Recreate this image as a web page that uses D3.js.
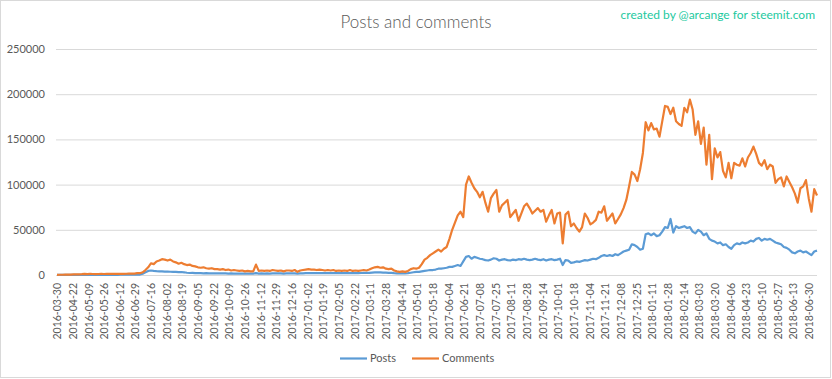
<!DOCTYPE html>
<html>
<head>
<meta charset="utf-8">
<title>Posts and comments</title>
<style>
  body { margin: 0; background: #fff; }
  svg { display: block; font-family: Lato, "Open Sans", sans-serif; }
</style>
</head>
<body>
<script src="https://cdn.jsdelivr.net/npm/d3@7/dist/d3.min.js"></script>
<script>
// first day, then a gap, then one point per day up to 2018-07-09
const firstDay = "2016-03-30";
const dailyFrom = "2016-04-06";
const dailyTo = "2018-07-10";

// values in thousands, read every third day
const sampleStep = 3;

const postsK = [
  0.1,0.1,0.1,0.1,0.1,0.1,0.2,0.2,0.2,0.2,
  0.2,0.2,0.2,0.2,0.2,0.2,0.2,0.2,0.2,0.2,
  0.2,0.2,0.2,0.3,0.3,0.3,0.3,0.3,0.3,0.3,
  0.5,1.5,3,4.5,5,4.5,4.2,4,4,3.8,
  3.8,3.6,3.5,3.4,3.2,3.3,3,2.5,2.2,2.3,
  2,2.1,2,1.9,2,1.8,1.9,1.8,1.7,1.8,
  1.7,1.8,1.6,1.7,1.6,1.6,1.5,1.6,1.5,1.5,
  1.5,1.6,2,1.6,1.7,1.6,1.7,1.6,1.8,1.7,
  1.7,1.8,1.6,1.8,1.7,1.7,1.8,1.5,1.8,1.9,
  2,2.1,2,2.1,2,2.1,2,2,2.1,2,
  2.1,2,2,2.1,2,2,2.1,2,2.2,2.1,
  2.2,2.3,2.3,2.4,2.6,2.8,2.9,2.8,2.7,2.6,
  2.4,2.3,2,1.9,1.8,1.9,1.8,2,2.5,3,
  3.5,3.5,4,4.5,5,5.5,5.5,6,7,7,
  7.5,8,9,9,10,11,10,15,20,21,
  18,20,19,18,17.5,16.5,16,17,18.5,18,
  16,17,17.5,16.5,16,17,16.5,17.5,17,18,
  17,16.5,17,18,17,16.5,17.5,16,17,17.5,
  16.5,17,18,11,16.5,16,13.5,14,15,14.5,
  15.5,16.5,16,17,18,17.5,19,21,22,21,
  22,21,23,22,24,26,27,28,34,33,
  31,28,29,45,46,44,46,43,44,48,
  53,52,62,47,54,52,53,54,52,53,
  48,46,50,48,44,46,40,38,37,35,
  36,33,34,31,29,33,35,34,36,35,
  36,38,37,40,41,38,40,39,40,38,
  36,35,34,31,30,28,25,24,26,27,
  25,26,24,22,26,27
];

const commentsK = [
  0.2,0.3,0.3,0.4,0.4,0.5,0.6,0.6,0.8,0.9,
  1.2,1.0,1.3,1.1,1.0,1.1,1.2,1.1,1.2,1.2,
  1.3,1.2,1.3,1.4,1.3,1.4,1.5,1.5,1.6,2.0,
  2.0,3.0,5.5,8.5,13,12,15,16,17.5,17,
  16,17,15,14,12.5,13.5,12,11,11.5,10,
  9.5,8.5,8,8.5,7.5,7,7.5,6.5,6.5,6,
  6.5,5.5,6,5,5.5,5,4.5,5,4,4.5,
  4,4,11.5,4.5,5,4.5,5,4.5,5.5,5,
  4.5,5,4,5,5,4.5,5.5,3.5,5,5.5,
  6,6.5,6,6,5.5,6,5.5,5,5.5,5,
  5.5,4.5,5,4.5,5,4.5,5.5,4.5,5,4.5,
  5,5.5,5,6,7.5,8.5,9,8,8.5,7,
  6.5,7,5,4,3.5,4,3.5,4.5,6.5,7.5,
  7,8,12,17,19,22,24,26,28,26,
  29,31,40,50,58,66,70,64,100,109,
  102,96,92,86,92,80,70,85,90,94,
  70,77,80,83,64,68,72,60,68,76,
  79,74,68,71,74,70,72,59,66,72,
  57,68,69,35,67,70,54,57,52,48,
  53,68,63,56,58,61,70,69,76,60,
  64,68,57,62,67,74,83,98,114,111,
  104,117,135,169,160,168,161,162,153,170,
  187,186,178,185,170,167,165,185,180,194,
  183,155,170,145,163,122,155,106,140,130,
  136,115,108,124,107,124,122,121,129,120,
  130,135,142,134,124,121,127,117,122,120,
  102,106,108,98,109,103,97,90,80,96,
  98,105,85,70,95,88
];

const xLabels = [
  "2016-03-30","2016-04-22","2016-05-09","2016-05-26","2016-06-12","2016-06-29",
  "2016-07-16","2016-08-02","2016-08-19","2016-09-05","2016-09-22","2016-10-09",
  "2016-10-26","2016-11-12","2016-11-29","2016-12-16","2017-01-02","2017-01-19",
  "2017-02-05","2017-02-22","2017-03-11","2017-03-28","2017-04-14","2017-05-01",
  "2017-05-18","2017-06-04","2017-06-21","2017-07-08","2017-07-25","2017-08-11",
  "2017-08-28","2017-09-14","2017-10-01","2017-10-18","2017-11-04","2017-11-21",
  "2017-12-08","2017-12-25","2018-01-11","2018-01-28","2018-02-14","2018-03-03",
  "2018-03-20","2018-04-06","2018-04-23","2018-05-10","2018-05-27","2018-06-13",
  "2018-06-30"
];
const yTicks = [0, 50, 100, 150, 200, 250];

const seriesNames = ["Posts", "Comments"];
const seriesColors = ["#5b9bd5", "#ed7d31"];

const W = 832, H = 379;
const plotL = 56, plotR = 817, plotT = 49, plotB = 275;

let fmt = d3.timeFormat("%Y-%m-%d");
let parse = d3.timeParse("%Y-%m-%d");
let cats = [firstDay].concat(d3.timeDay.range(parse(dailyFrom), parse(dailyTo)).map(fmt));

let x = d3.scalePoint().domain(cats).range([57, plotR]);
let y = d3.scaleLinear().domain([0, 250]).range([plotB, plotT]);

let svg = d3.select("body").append("svg")
  .attr("width", W)
  .attr("height", H);

svg.append("rect")
  .attr("x", 0.5).attr("y", 0.5)
  .attr("width", W - 2).attr("height", H - 2)
  .attr("fill", "#fff")
  .attr("stroke", "#d9d9d9");

// grid + y labels
let yAxis = d3.axisLeft(y)
  .tickValues(yTicks)
  .tickSize(-(plotR - plotL))
  .tickPadding(11)
  .tickFormat(d => String(d * 1000));

let gy = svg.append("g")
  .attr("transform", `translate(${plotL},0)`)
  .call(yAxis);
gy.select(".domain").remove();
gy.selectAll(".tick line").attr("stroke", "#d9d9d9");
gy.selectAll(".tick text")
  .attr("fill", "#595959")
  .style("font-size", "11px")
  .style("font-family", "Lato, sans-serif");

// x labels
let xAxis = d3.axisBottom(x).tickValues(xLabels).tickSize(0);
let gx = svg.append("g")
  .attr("transform", `translate(0,${plotB})`)
  .call(xAxis);
gx.select(".domain").remove();
gx.selectAll(".tick text")
  .attr("transform", "rotate(-90)")
  .attr("x", -8)
  .attr("y", 0)
  .attr("dy", "0.35em")
  .style("text-anchor", "end")
  .attr("fill", "#595959")
  .style("font-size", "10.5px")
  .style("font-family", "Lato, sans-serif");

// lines
let line = d3.line()
  .x((d, i) => x(cats[i * sampleStep]))
  .y(d => y(d));

[postsK, commentsK].forEach((vals, s) => {
  svg.append("path")
    .datum(vals)
    .attr("fill", "none")
    .attr("stroke", seriesColors[s])
    .attr("stroke-width", 2.2)
    .attr("stroke-linejoin", "round")
    .attr("d", line);
});

// title
svg.append("text")
  .attr("x", 416)
  .attr("y", 28)
  .attr("text-anchor", "middle")
  .attr("fill", "#595959")
  .style("font-size", "17px")
  .style("font-weight", 300)
  .text("Posts and comments");

svg.append("text")
  .attr("x", 815)
  .attr("y", 19)
  .attr("text-anchor", "end")
  .attr("fill", "#1dc9a0")
  .style("font-size", "12px")
  .text("created by @arcange for steemit.com");

// legend
let legendX = [340, 412];
seriesNames.forEach((name, i) => {
  let g = svg.append("g").attr("transform", `translate(${legendX[i]},358.5)`);
  g.append("line")
    .attr("x1", 0).attr("x2", 27)
    .attr("stroke", seriesColors[i])
    .attr("stroke-width", 2.2);
  g.append("text")
    .attr("x", 30)
    .attr("dy", "0.35em")
    .attr("fill", "#595959")
    .style("font-size", "11px")
    .text(name);
});
</script>
</body>
</html>
